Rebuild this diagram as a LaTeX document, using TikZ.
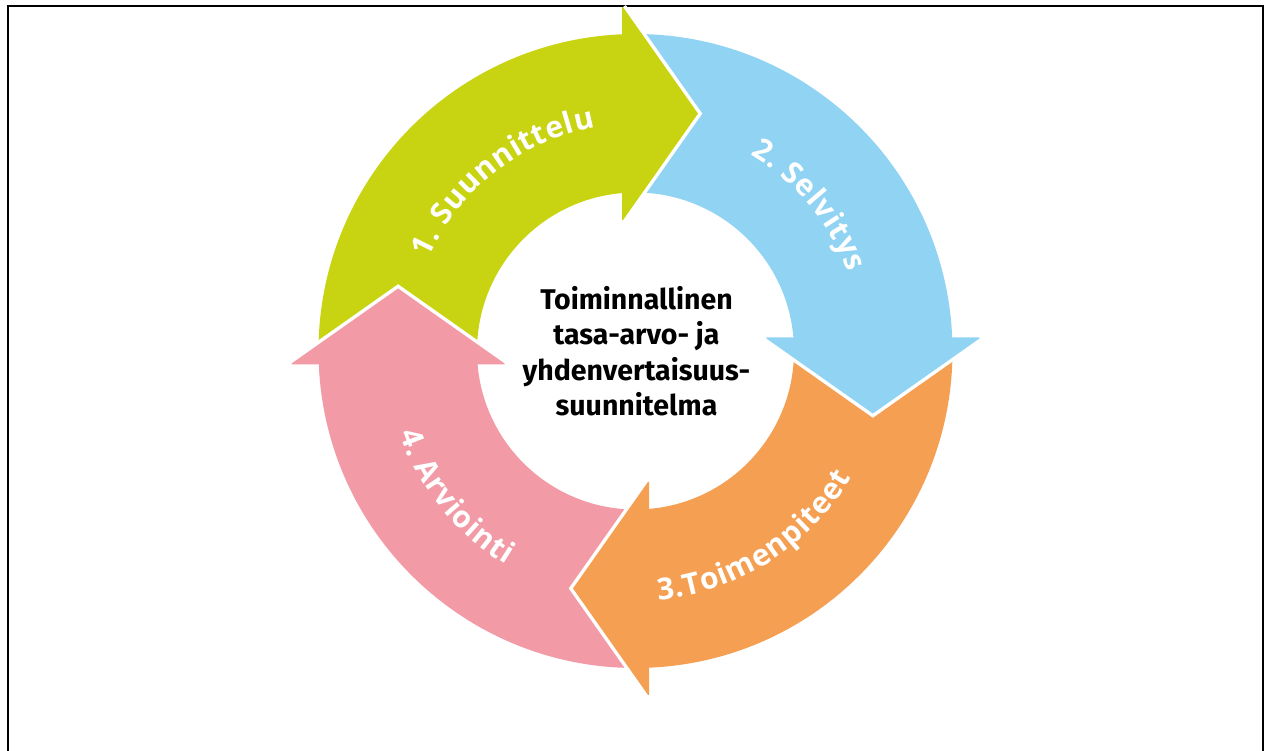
\documentclass[tikz,border=0pt]{standalone}
\usepackage{fontspec}
\setmainfont{Fira Sans}
\newfontfamily\labfont{Open Sans}
\usetikzlibrary{decorations.text}
\definecolor{cgreen}{RGB}{200,212,17}
\definecolor{cblue}{RGB}{145,211,243}
\definecolor{corange}{RGB}{244,159,82}
\definecolor{cpink}{RGB}{242,154,165}
\tikzset{
  frameline/.style={line width=2.4pt, black},
  headgap/.style={white, line width=7pt, line join=miter},
  labfontstyle/.style={font=\labfont\bfseries\fontsize{30}{34}\selectfont},
  labchars/.style={labfontstyle, text=white},
  centertext/.style={font=\bfseries\fontsize{28.5}{35.5}\selectfont, align=center, text=black}
}
\begin{document}
\begin{tikzpicture}[x=1pt,y=1pt]
\useasboundingbox (-635.5,-400) rectangle (629.5,351);
\draw[frameline] (-627.5,-410) -- (-627.5,345) -- (627.5,345) -- (627.5,-410);
% bodies
\foreach \k/\c in {0/cgreen,1/cblue,2/corange,3/cpink}{
  \fill[\c, rotate=-90*\k] (182.26:317) arc[start angle=182.26, end angle=92.26, radius=317]
     -- (94.52:158.5) arc[start angle=94.52, end angle=184.52, radius=158.5] -- cycle;
}
% heads
\foreach \k/\c in {0/cgreen,1/cblue,2/corange,3/cpink}{
  \begin{scope}[rotate=-90*\k]
    \draw[headgap] (-12.5,343.9) -- (62.5,237.4) -- (-12.5,130.9);
    \fill[\c] (-13.5,343.9) -- (-12.5,343.9) -- (62.5,237.4) -- (-12.5,130.9) -- (-13.5,130.9) -- cycle;
  \end{scope}
}
% labels
\path[decorate, decoration={text effects along path, text={1. Suunnittelu}, text align=center,
  text effects/.cd, text along path, character widths={labfontstyle, inner xsep=0.4pt}, characters={labchars}}]
  (168:227) arc[start angle=168, end angle=88, radius=227];
\path[decorate, decoration={text effects along path, text={2. Selvitys}, text align=center,
  text effects/.cd, text along path, character widths={labfontstyle, inner xsep=0.4pt}, characters={labchars}}]
  (80:227) arc[start angle=80, end angle=0, radius=227];
\path[decorate, decoration={text effects along path, text={3.Toimenpiteet}, text align=center,
  text effects/.cd, text along path, character widths={labfontstyle, inner xsep=0.4pt}, characters={labchars}}]
  (262.5:250) arc[start angle=262.5, end angle=342.5, radius=250];
\path[decorate, decoration={text effects along path, text={4. Arviointi}, text align=center,
  text effects/.cd, text along path, character widths={labfontstyle, inner xsep=0.4pt}, characters={labchars}}]
  (179:250) arc[start angle=179, end angle=259, radius=250];
% centre
\node[centertext, anchor=base] (centre) at (1,-65) {Toiminnallinen\\tasa-arvo- ja\\yhdenvertaisuus-\\suunnitelma};
\end{tikzpicture}
\end{document}
